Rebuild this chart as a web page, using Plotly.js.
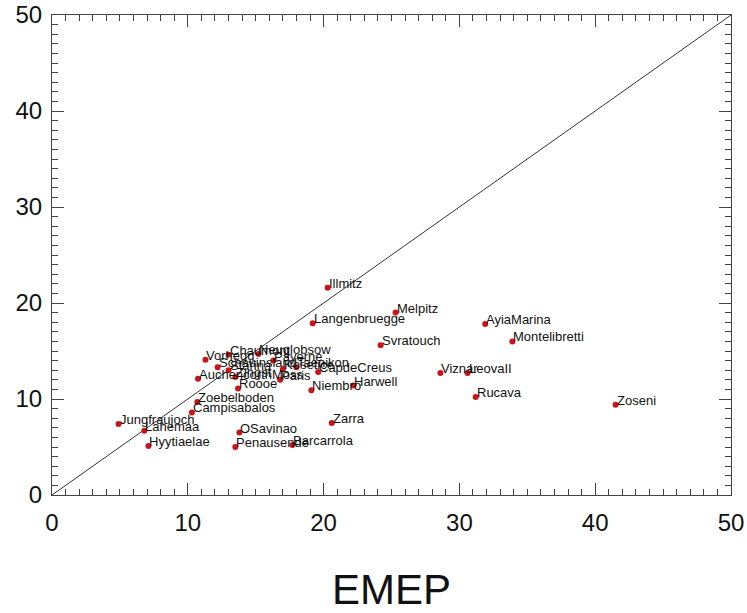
<!DOCTYPE html>
<html>
<head>
<meta charset="utf-8">
<script src="https://cdn.plot.ly/plotly-3.0.1.min.js"></script>
<style>html,body{margin:0;padding:0;background:#fff;}#chart{width:747px;height:613px;}</style>
</head>
<body>
<div id="chart"></div>
<script>
// Station names, EMEP (x) and comparison (y) values
const stations = ["Illmitz","Melpitz","Langenbruegge","AyiaMarina","Montelibretti","Svratouch",
  "Chaumont","Neuglobsow","Vorhegg","Payerne","Kosetice","Schauinsland","Starina","Taenikon",
  "Paris","Zingst","CapdeCreus","AuchencorthMoss","Roooe","Niembro","Harwell","Viznar","LeovaII",
  "Rucava","Zoseni","Zoebelboden","Campisabalos","Zarra","Jungfraujoch","Lahemaa","OSavinao",
  "Hyytiaelae","Penausende","Barcarrola"];
const emep = [20.3,25.3,19.2,31.9,33.9,24.2,
  13.0,15.2,11.3,16.3,17.0,12.2,13.0,18.0,
  16.8,13.5,19.6,10.75,13.7,19.1,22.2,28.6,30.6,
  31.2,41.5,10.7,10.3,20.6,4.9,6.8,13.8,
  7.1,13.5,17.7];
const obs = [21.6,19.0,17.9,17.8,16.0,15.6,
  14.6,14.7,14.1,14.0,13.1,13.3,13.0,13.3,
  12.0,12.3,12.8,12.1,11.1,10.9,11.4,12.7,12.7,
  10.2,9.4,9.7,8.6,7.5,7.4,6.7,6.5,
  5.1,5.0,5.2];
const diagX = [0, 50];
const diagY = [0, 50];
const tickVals = [0,10,20,30,40,50];
const tickText = ["0","10","20","30","40","50"];
const xTitle = "EMEP";

const FONT = "Liberation Sans, Arial, sans-serif";

const axisCommon = {
  range: [0, 50],
  tickvals: tickVals,
  ticktext: tickText,
  ticks: "inside",
  ticklen: 12,
  tickwidth: 1,
  tickcolor: "#444",
  showline: true,
  linecolor: "#444",
  linewidth: 1,
  mirror: "ticks",
  showgrid: false,
  zeroline: false,
  tickfont: {family: FONT, size: 24, color: "#111"},
  minor: {dtick: 1, ticks: "inside", ticklen: 6, tickwidth: 1, tickcolor: "#444", showgrid: false},
  fixedrange: true
};

const traces = [
  {x: diagX, y: diagY, mode: "lines", line: {color: "#333", width: 1}, hoverinfo: "skip", showlegend: false},
  {x: emep, y: obs, mode: "markers",
   marker: {color: "#cc1418", size: 6}, showlegend: false, cliponaxis: false}
];

const annotations = stations.map((s, i) => ({
  x: emep[i], y: obs[i], text: s, showarrow: false,
  xanchor: "left", yanchor: "bottom", xshift: 0, yshift: -4, borderpad: 0,
  font: {family: FONT, size: 13, color: "#111"}
}));

const layout = {
  width: 747, height: 613,
  margin: {l: 52, r: 16, t: 15, b: 118},
  paper_bgcolor: "#fff", plot_bgcolor: "#fff",
  showlegend: false,
  annotations: annotations,
  xaxis: Object.assign({}, axisCommon, {
    ticklabelstandoff: 6,
    title: {text: xTitle, font: {family: FONT, size: 42, color: "#111"}, standoff: 50}
  }),
  yaxis: Object.assign({}, axisCommon, {ticklabelstandoff: 4})
};

Plotly.newPlot("chart", traces, layout, {displayModeBar: false, staticPlot: true});
</script>
</body>
</html>
